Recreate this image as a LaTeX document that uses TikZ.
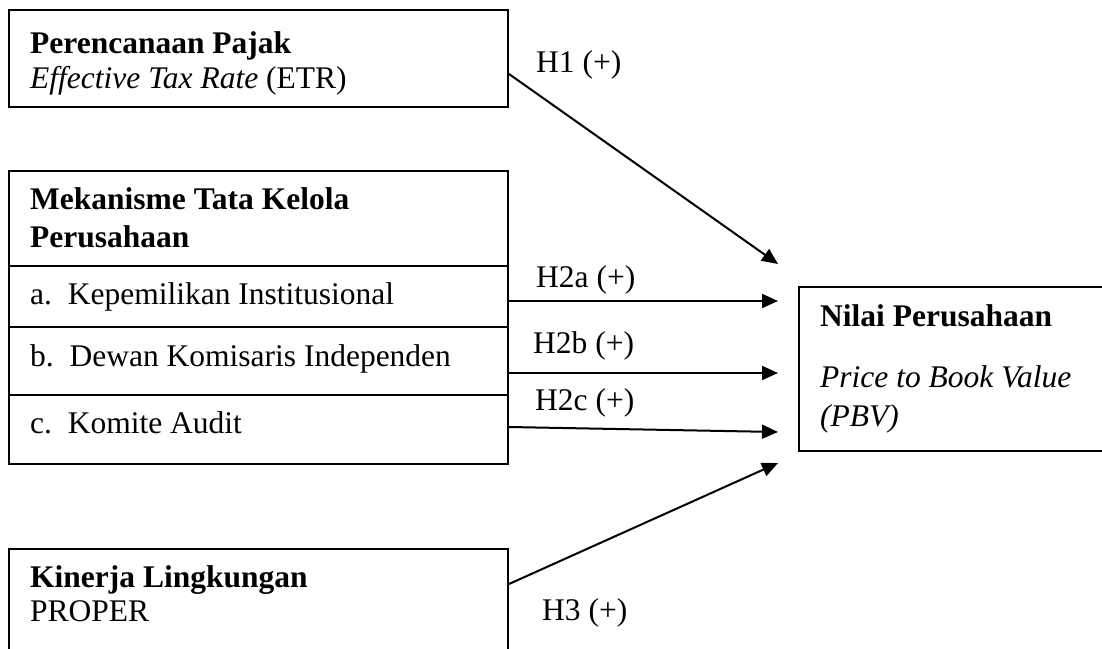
\documentclass[tikz,border=0pt]{standalone}
\usepackage{fontspec}
\setmainfont{Liberation Serif}
\usetikzlibrary{arrows.meta}
\begin{document}
\begin{tikzpicture}[x=1pt,y=-1pt,
  box/.style={draw, line width=1.5pt, inner sep=0pt, anchor=north west},
  txt/.style={anchor=base west, inner sep=0pt, font=\fontsize{31.5}{36}\selectfont},
  divline/.style={line width=1.5pt},
  conn/.style={line width=2pt, -{Triangle[length=16pt,width=14pt]}}]
\useasboundingbox (0,0) rectangle (1102,648);
% boxes
\node[box, minimum width=499pt, minimum height=97pt] (b1) at (8,9) {};
\node[box, minimum width=499pt, minimum height=293pt] (b2) at (8,170) {};
\node[box, minimum width=499pt, minimum height=112pt] (b3) at (8,548) {};
\node[box, minimum width=310pt, minimum height=164pt] (nv) at (798,286) {};
\draw[divline] (8,266) -- (507,266);
\draw[divline] (8,327) -- (507,327);
\draw[divline] (8,395) -- (507,395);
% texts
\node[txt] (t1a) at (30,53) {\textbf{Perencanaan Pajak}};
\node[txt] (t1b) at (30,88) {\textit{Effective Tax Rate} (ETR)};
\node[txt] (t2a) at (30,209) {\textbf{Mekanisme Tata Kelola}};
\node[txt] (t2b) at (30,247) {\textbf{Perusahaan}};
\node[txt] (t2c) at (30,304) {a.\hspace{0.5em}Kepemilikan Institusional};
\node[txt] (t2d) at (30,366) {b.\hspace{0.5em}Dewan Komisaris Independen};
\node[txt] (t2e) at (30,433) {c.\hspace{0.5em}Komite Audit};
\node[txt] (t3a) at (30,587) {\textbf{Kinerja Lingkungan}};
\node[txt] (t3b) at (30,621) {PROPER};
\node[txt] (tna) at (820,326) {\textbf{Nilai Perusahaan}};
\node[txt] (tnb) at (820,387) {\textit{Price to Book Value}};
\node[txt] (tnc) at (820,426) {\textit{(PBV)}};
% hypothesis labels
\node[txt] (h1) at (536,72) {H1 (+)};
\node[txt] (h2a) at (536,287) {H2a (+)};
\node[txt] (h2b) at (533,353) {H2b (+)};
\node[txt] (h2c) at (535,410) {H2c (+)};
\node[txt] (h3) at (542,620) {H3 (+)};
% connector end points
\coordinate (s1) at (509,74);
\coordinate (e1) at (778,264);
\coordinate (s2a) at (507,301);
\coordinate (e2a) at (778,301);
\coordinate (s2b) at (509,373);
\coordinate (e2b) at (778,373);
\coordinate (s2c) at (509,427);
\coordinate (e2c) at (778,432);
\coordinate (s3) at (509,584);
\coordinate (e3) at (778,463);
\draw[conn] (s1) -- (e1);
\draw[conn] (s2a) -- (e2a);
\draw[conn] (s2b) -- (e2b);
\draw[conn] (s2c) -- (e2c);
\draw[conn] (s3) -- (e3);
\end{tikzpicture}
\end{document}
